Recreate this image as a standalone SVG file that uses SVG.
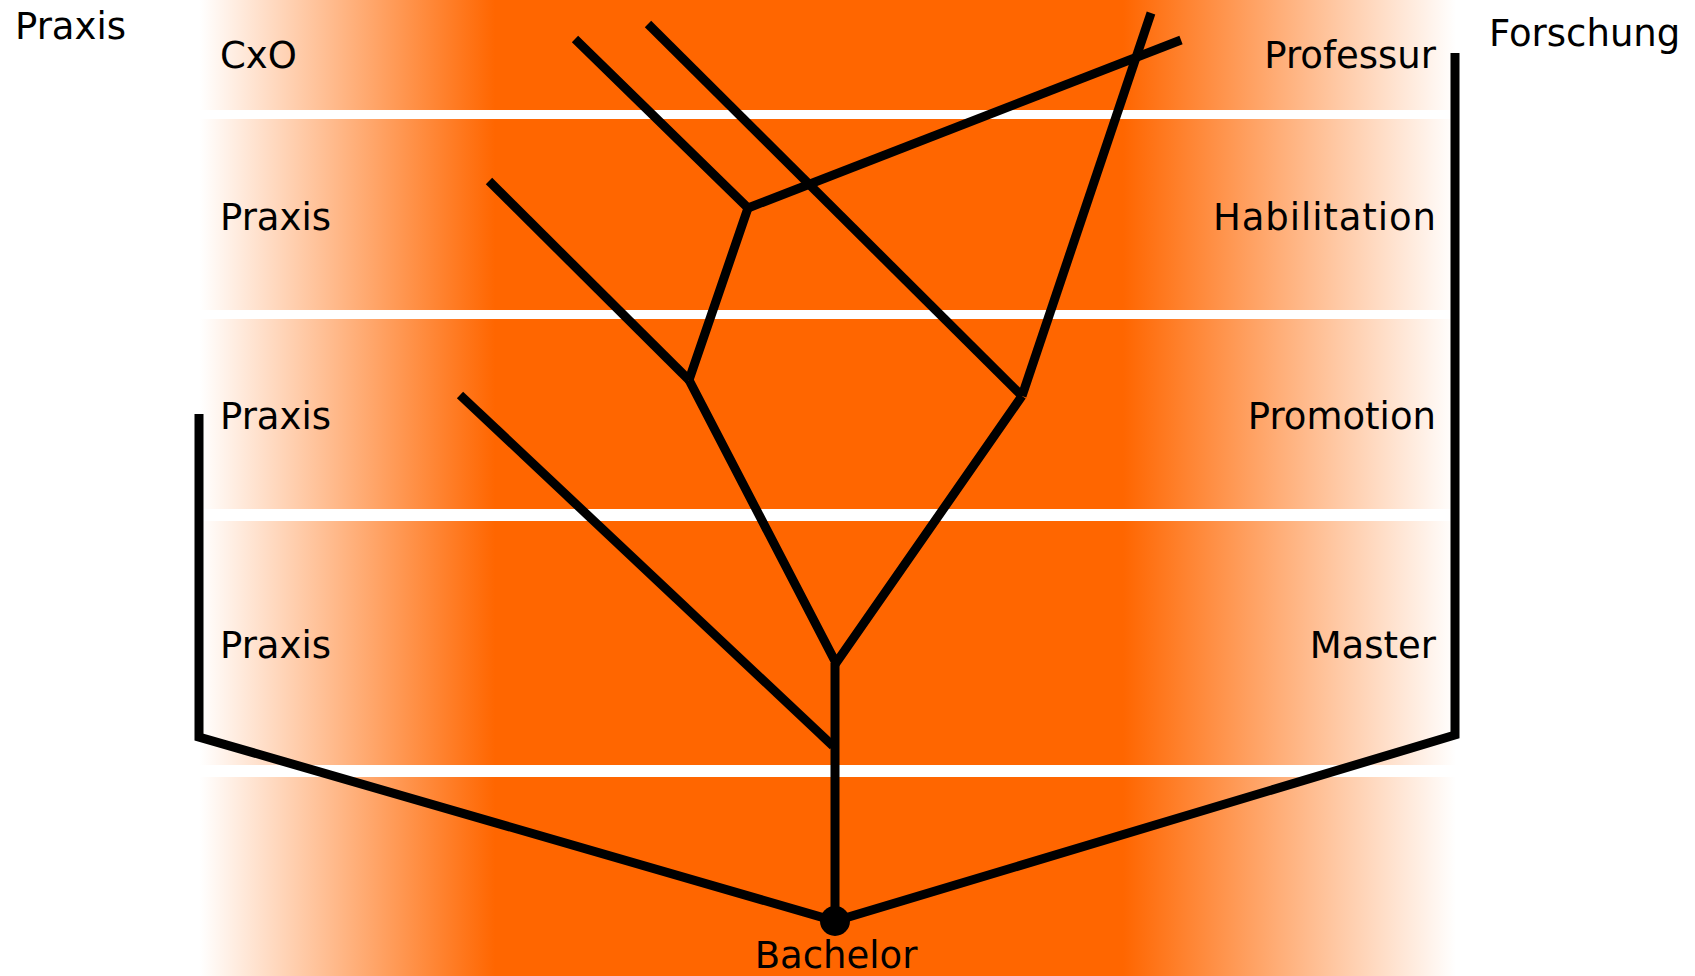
<svg xmlns="http://www.w3.org/2000/svg" width="1695" height="976" viewBox="0 0 1695 976">
<defs>
<linearGradient id="bandGrad" gradientUnits="userSpaceOnUse" x1="200" y1="0" x2="1456" y2="0">
<stop offset="0" stop-color="#FFFFFF"/>
<stop offset="0.235" stop-color="#FF6600"/>
<stop offset="0.735" stop-color="#FF6600"/>
<stop offset="1" stop-color="#FFFFFF"/>
</linearGradient>
</defs>
<style>
.band{fill:url(#bandGrad);}
.lbl{font-family:"DejaVu Sans","Liberation Sans",sans-serif;font-size:37px;fill:#000;}
.r{text-anchor:end;}
.c{text-anchor:middle;}
.ln{fill:none;stroke:#000;stroke-width:9;stroke-linecap:butt;stroke-linejoin:miter;}
</style>
<rect width="1695" height="976" fill="#FFFFFF"/>
<g id="bands">
<rect class="band" x="200" y="0" width="1256" height="110"/>
<rect class="band" x="200" y="119" width="1256" height="191"/>
<rect class="band" x="200" y="319" width="1256" height="190"/>
<rect class="band" x="200" y="521" width="1256" height="244"/>
<rect class="band" x="200" y="777" width="1256" height="199"/>
</g>
<g id="connectors">
<polyline class="ln" points="199,414 199,737 835,921 1455,735 1455,53"/>
<line class="ln" x1="835" y1="921" x2="835" y2="663"/>
<line class="ln" x1="460" y1="395" x2="833" y2="746"/>
<polyline class="ln" points="689,380 836,663 1022,396"/>
<line class="ln" x1="689" y1="380" x2="489" y2="181"/>
<polyline class="ln" points="689,380 748,208 575,39"/>
<line class="ln" x1="748" y1="208" x2="1181" y2="40"/>
<line class="ln" x1="1022" y1="396" x2="648" y2="24"/>
<line class="ln" x1="1022" y1="396" x2="1151" y2="13"/>
</g>
<g id="node-bachelor">
<circle cx="835" cy="921" r="15" fill="#000"/>
<text class="lbl c" x="836" y="968">Bachelor</text>
</g>
<g id="label-praxis-head"><text class="lbl" x="15" y="39">Praxis</text></g>
<g id="label-forschung-head"><text class="lbl" x="1489" y="46">Forschung</text></g>
<g id="label-cxo"><text class="lbl" x="220" y="68">CxO</text></g>
<g id="label-praxis-2"><text class="lbl" x="220" y="230">Praxis</text></g>
<g id="label-praxis-3"><text class="lbl" x="220" y="429">Praxis</text></g>
<g id="label-praxis-4"><text class="lbl" x="220" y="658">Praxis</text></g>
<g id="label-professur"><text class="lbl r" x="1436" y="68">Professur</text></g>
<g id="label-habilitation"><text class="lbl r" x="1436" y="230" textLength="223" lengthAdjust="spacing">Habilitation</text></g>
<g id="label-promotion"><text class="lbl r" x="1436" y="429">Promotion</text></g>
<g id="label-master"><text class="lbl r" x="1436" y="658">Master</text></g>
</svg>
